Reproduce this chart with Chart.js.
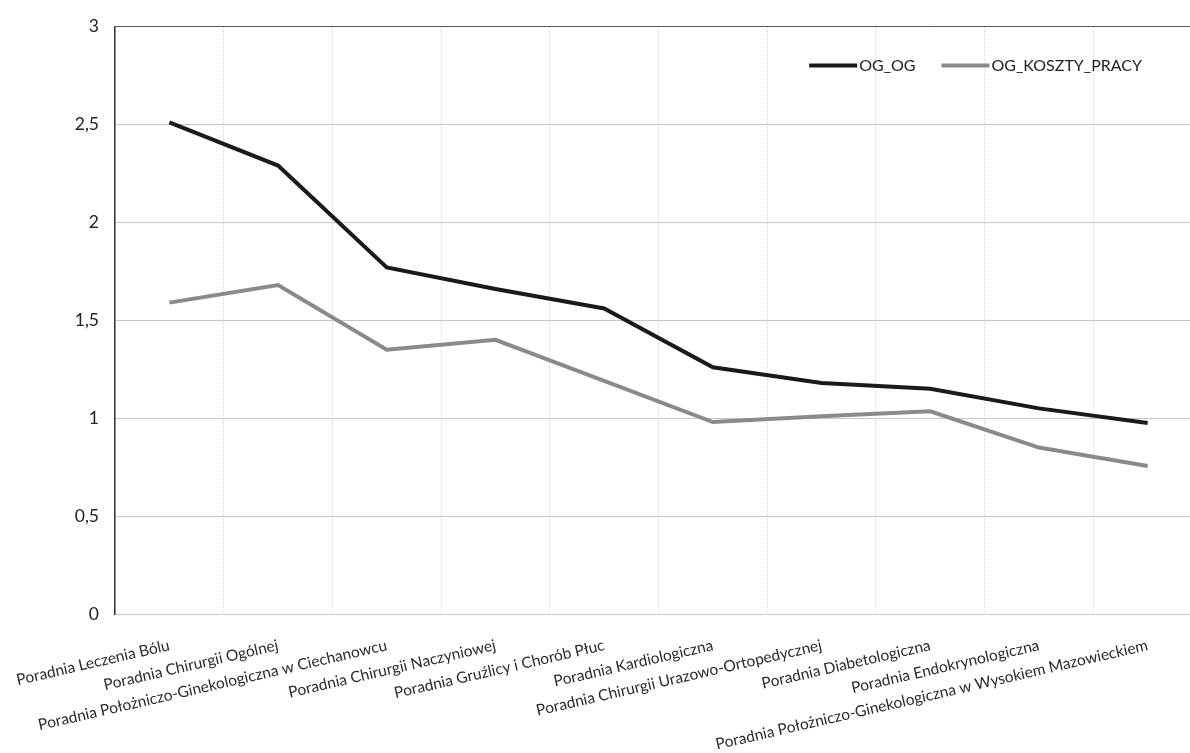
<!DOCTYPE html>
<html>
<head>
<meta charset="utf-8">
<script src="https://cdn.jsdelivr.net/npm/chart.js@4"></script>
<style>
  html, body { margin: 0; padding: 0; background: #fff; overflow: hidden; }
  #wrap { position: absolute; left: 0; top: 0; width: 1202px; height: 753px; }
</style>
</head>
<body>
<div id="wrap"><canvas id="myChart"></canvas></div>
<script>
const poradnie = [
    'Poradnia Leczenia Bólu',
    'Poradnia Chirurgii Ogólnej',
    'Poradnia Położniczo-Ginekologiczna w Ciechanowcu',
    'Poradnia Chirurgii Naczyniowej',
    'Poradnia Gruźlicy i Chorób Płuc',
    'Poradnia Kardiologiczna',
    'Poradnia Chirurgii Urazowo-Ortopedycznej',
    'Poradnia Diabetologiczna',
    'Poradnia Endokrynologiczna',
    'Poradnia Położniczo-Ginekologiczna w Wysokiem Mazowieckiem'
];
const ogOg = [2.51, 2.29, 1.77, 1.66, 1.56, 1.26, 1.18, 1.15, 1.05, 0.975];
const ogKosztyPracy = [1.59, 1.68, 1.35, 1.40, 1.19, 0.98, 1.01, 1.035, 0.85, 0.756];
const yTickLabels = ['0', '0,5', '1', '1,5', '2', '2,5', '3'];

// legend drawn inside the plot, top right
const insideLegend = {
    id: 'insideLegend',
    afterDraw(chart) {
        const ctx = chart.ctx;
        const area = chart.chartArea;
        const sets = chart.data.datasets;
        ctx.save();
        ctx.font = '16px Lato';
        ctx.textBaseline = 'middle';
        ctx.fillStyle = '#222';
        let x = area.right - 60;
        const y = area.top + 39;
        for (let i = sets.length - 1; i >= 0; i--) {
            const w = ctx.measureText(sets[i].label).width;
            ctx.fillText(sets[i].label, x - w, y);
            ctx.beginPath();
            ctx.strokeStyle = sets[i].borderColor;
            ctx.lineWidth = sets[i].borderWidth;
            ctx.moveTo(x - w - 50, y);
            ctx.lineTo(x - w - 2, y);
            ctx.stroke();
            x = x - w - 50 - 26;
        }
        ctx.restore();
    }
};

var ctx = document.getElementById('myChart').getContext('2d');
var myChart = new Chart(ctx, {
    type: 'line',
    data: {
        labels: poradnie,
        datasets: [{
            label: 'OG_OG',
            data: ogOg,
            borderColor: '#1a1a1a',
            borderWidth: 4,
            pointRadius: 0,
            tension: 0
        }, {
            label: 'OG_KOSZTY_PRACY',
            data: ogKosztyPracy,
            borderColor: '#8a8a8a',
            borderWidth: 4,
            pointRadius: 0,
            tension: 0
        }]
    },
    options: {
        responsive: true,
        maintainAspectRatio: false,
        animation: false,
        layout: { padding: { top: 23, left: 0, right: 0, bottom: 0 } },
        plugins: {
            legend: { display: false },
            tooltip: { enabled: false }
        },
        scales: {
            x: {
                offset: true,
                grid: {
                    offset: true,
                    drawTicks: false,
                    color: '#d6d6e4',
                    lineWidth: 1
                },
                border: { display: true, color: '#c8c8d8', dash: [2, 2] },
                ticks: {
                    autoSkip: false,
                    minRotation: 13,
                    maxRotation: 13,
                    padding: 22,
                    color: '#2a2a2a',
                    font: { family: 'Lato', size: 15.5 }
                },
                afterFit(scale) {
                    scale.height = 139;
                    // long rotated labels may hang left of the axis, keep the plot where it is
                    scale.paddingLeft = 0;
                    scale.paddingRight = 0;
                }
            },
            y: {
                min: 0,
                max: 3,
                ticks: {
                    stepSize: 0.5,
                    padding: 16,
                    color: '#222',
                    font: { family: 'Lato', size: 17.5 },
                    callback: (value, index) => yTickLabels[index]
                },
                grid: {
                    drawTicks: false,
                    color: c => c.tick && c.tick.value === 3 ? '#555' : '#c6c6da',
                    lineWidth: 1
                },
                border: { color: '#333', width: 1.5 },
                afterFit(scale) { scale.width = 115; }
            }
        }
    },
    plugins: [insideLegend]
});
</script>
</body>
</html>
